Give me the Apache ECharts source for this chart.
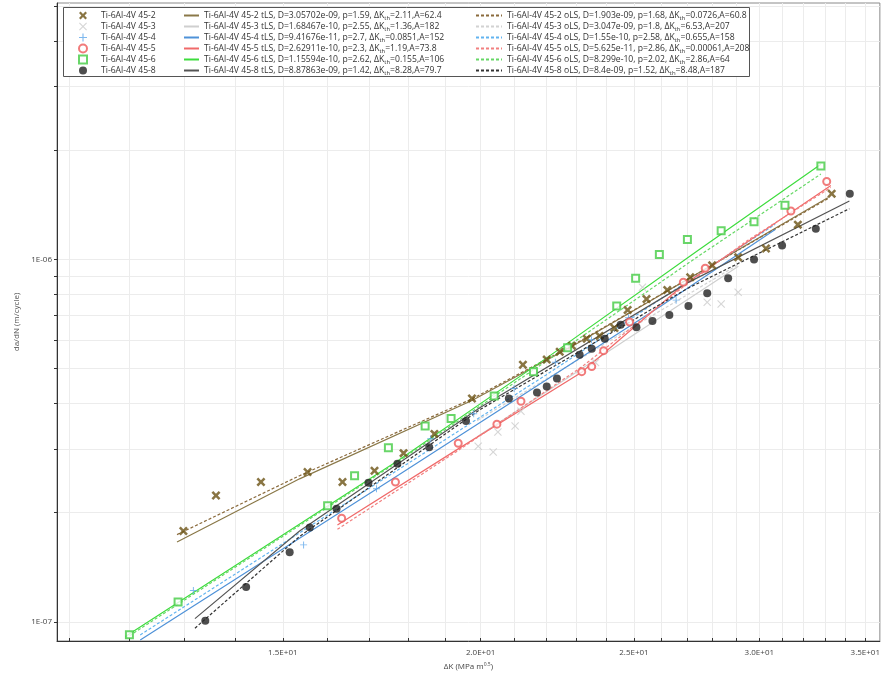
<!DOCTYPE html>
<html>
<head>
<meta charset="utf-8">
<script src="https://cdn.jsdelivr.net/npm/echarts@6/dist/echarts.min.js"></script>
<style>
html, body { margin: 0; padding: 0; background: #fff; }
#chart { width: 883px; height: 676px; }
</style>
</head>
<body>
<div id="chart"></div>
<script>
// axis ticks / labels
const xLabelValues = [15, 20, 25, 30, 35];
const xTickValues = [11, 12, 13, 14, 15, 16, 17, 18, 19, 20, 21, 22, 23, 24, 25, 26, 27, 28, 29, 30, 31, 32, 33, 34, 35];
const yLabelValues = [1e-7, 1e-6];
const yTickValues = [1e-7, 2e-7, 3e-7, 4e-7, 5e-7, 6e-7, 7e-7, 8e-7, 9e-7, 1e-6, 2e-6, 3e-6, 4e-6, 5e-6];

// measured points [dK, da/dN]
const pts452 = [[12.98,1.78e-7],[13.61,2.23e-7],[14.53,2.43e-7],[15.55,2.59e-7],[16.36,2.43e-7],[17.14,2.61e-7],[17.88,2.92e-7],[18.70,3.30e-7],[19.75,4.13e-7],[21.27,5.12e-7],[22.02,5.29e-7],[22.44,5.56e-7],[22.84,5.78e-7],[23.34,6.04e-7],[23.78,6.15e-7],[24.30,6.47e-7],[24.77,7.25e-7],[25.46,7.77e-7],[26.24,8.23e-7],[27.13,8.93e-7],[28.01,9.63e-7],[29.09,1.013e-6],[30.29,1.072e-6],[31.73,1.247e-6],[33.33,1.517e-6]];
const pts453 = [[19.93,3.05e-7],[20.37,2.94e-7],[20.51,3.34e-7],[21.03,3.47e-7],[21.21,3.81e-7],[23.64,5.19e-7],[25.31,8.38e-7],[27.81,7.62e-7],[28.38,7.53e-7],[29.09,8.12e-7]];
const pts454 = [[13.17,1.22e-7],[15.46,1.63e-7],[17.19,2.33e-7],[18.6,3.2e-7],[19.8,3.75e-7],[21.0,4.4e-7],[22.3,5.2e-7],[23.5,6.0e-7],[24.8,6.9e-7],[26.58,7.72e-7]];
const pts455 = [[16.34,1.93e-7],[17.67,2.43e-7],[19.36,3.11e-7],[20.48,3.51e-7],[21.21,4.06e-7],[23.17,4.90e-7],[23.51,5.06e-7],[23.92,5.60e-7],[24.84,6.72e-7],[26.86,8.65e-7],[27.73,9.45e-7],[31.41,1.36e-6],[33.09,1.64e-6]];
const pts456 = [[12.00,9.21e-8],[12.88,1.134e-7],[16.01,2.09e-7],[16.65,2.53e-7],[17.49,3.02e-7],[18.45,3.47e-7],[19.16,3.64e-7],[20.4,4.2e-7],[21.6,4.9e-7],[22.7,5.7e-7],[24.38,7.44e-7],[25.06,8.87e-7],[25.94,1.032e-6],[27.02,1.134e-6],[28.38,1.20e-6],[29.77,1.27e-6],[31.14,1.41e-6],[32.81,1.81e-6]];
const pts458 = [[13.40,1.006e-7],[14.22,1.247e-7],[15.15,1.555e-7],[15.60,1.82e-7],[16.22,2.05e-7],[16.99,2.42e-7],[17.72,2.73e-7],[18.56,3.03e-7],[19.58,3.58e-7],[20.84,4.13e-7],[21.71,4.29e-7],[22.02,4.46e-7],[22.35,4.69e-7],[23.10,5.46e-7],[23.51,5.67e-7],[23.96,6.04e-7],[24.52,6.60e-7],[25.09,6.50e-7],[25.68,6.76e-7],[26.32,7.02e-7],[27.06,7.44e-7],[27.81,8.07e-7],[28.67,8.87e-7],[29.77,1.0e-6],[31.01,1.092e-6],[32.57,1.216e-6],[34.22,1.517e-6]];

// fitted curves (tLS solid, oLS dashed)
const tls452 = [[12.86,1.66e-7],[15.37,2.48e-7],[19.75,4.08e-7],[22.84,5.75e-7],[27.13,8.9e-7],[33.14,1.48e-6]];
const ols452 = [[12.86,1.74e-7],[15.37,2.53e-7],[19.75,4.12e-7],[22.84,5.78e-7],[27.13,8.9e-7],[33.14,1.47e-6]];
const tls453 = [[19.9,3.24e-7],[24.5,5.85e-7],[29.1,9.57e-7]];
const ols453 = [[19.9,3.59e-7],[24.5,6.2e-7],[29.1,9.68e-7]];
const tls454 = [[12.19,8.9e-8],[17.77,2.55e-7],[22.0,4.65e-7],[26.0,7.44e-7],[30.7,1.21e-6]];
const ols454 = [[12.19,9.2e-8],[17.77,2.64e-7],[22.0,4.8e-7],[26.0,7.78e-7],[30.7,1.25e-6]];
const tls455 = [[16.24,1.85e-7],[19.36,3.0e-7],[23.17,4.88e-7],[26.86,8.5e-7],[29.51,1.12e-6],[33.29,1.6e-6]];
const ols455 = [[16.24,1.8e-7],[19.36,2.97e-7],[23.17,5.05e-7],[26.86,8.4e-7],[29.51,1.13e-6],[33.29,1.58e-6]];
const tls456 = [[11.93,9.1e-8],[17.77,2.8e-7],[22.09,5.4e-7],[27.45,1.06e-6],[32.81,1.83e-6]];
const ols456 = [[11.93,9.0e-8],[17.77,2.78e-7],[22.09,5.3e-7],[27.45,1.02e-6],[32.81,1.72e-6]];
const tls458 = [[13.2,1.02e-7],[15.37,1.78e-7],[20.0,3.91e-7],[27.0,8.6e-7],[34.2,1.45e-6]];
const ols458 = [[13.2,9.6e-8],[15.37,1.72e-7],[20.0,3.86e-7],[27.0,8.3e-7],[34.2,1.38e-6]];

const specimenNames = ['Ti-6Al-4V 45-2', 'Ti-6Al-4V 45-3', 'Ti-6Al-4V 45-4', 'Ti-6Al-4V 45-5', 'Ti-6Al-4V 45-6', 'Ti-6Al-4V 45-8'];
const tlsNames = [
  'Ti-6Al-4V 45-2 tLS, D=3.05702e-09, p=1.59, ΔKth=2.11,A=62.4',
  'Ti-6Al-4V 45-3 tLS, D=1.68467e-10, p=2.55, ΔKth=1.36,A=182',
  'Ti-6Al-4V 45-4 tLS, D=9.41676e-11, p=2.7, ΔKth=0.0851,A=152',
  'Ti-6Al-4V 45-5 tLS, D=2.62911e-10, p=2.3, ΔKth=1.19,A=73.8',
  'Ti-6Al-4V 45-6 tLS, D=1.15594e-10, p=2.62, ΔKth=0.155,A=106',
  'Ti-6Al-4V 45-8 tLS, D=8.87863e-09, p=1.42, ΔKth=8.28,A=79.7'
];
const olsNames = [
  'Ti-6Al-4V 45-2 oLS, D=1.903e-09, p=1.68, ΔKth=0.0726,A=60.8',
  'Ti-6Al-4V 45-3 oLS, D=3.047e-09, p=1.8, ΔKth=6.53,A=207',
  'Ti-6Al-4V 45-4 oLS, D=1.55e-10, p=2.58, ΔKth=0.655,A=158',
  'Ti-6Al-4V 45-5 oLS, D=5.625e-11, p=2.86, ΔKth=0.00061,A=208',
  'Ti-6Al-4V 45-6 oLS, D=8.299e-10, p=2.02, ΔKth=2.86,A=64',
  'Ti-6Al-4V 45-8 oLS, D=8.4e-09, p=1.52, ΔKth=8.48,A=187'
];

const pointSets = [pts452, pts453, pts454, pts455, pts456, pts458];
const tlsSets = [tls452, tls453, tls454, tls455, tls456, tls458];
const olsSets = [ols452, ols453, ols454, ols455, ols456, ols458];

// marker look per specimen
const crossBold = 'path://M0,2 L2,0 L5,3 L8,0 L10,2 L7,5 L10,8 L8,10 L5,7 L2,10 L0,8 L3,5 Z';
const crossThin = 'path://M0,1 L1,0 L5,4 L9,0 L10,1 L6,5 L10,9 L9,10 L5,6 L1,10 L0,9 L4,5 Z';
const plusThin = 'path://M4.3,0 H5.7 V4.3 H10 V5.7 H5.7 V10 H4.3 V5.7 H0 V4.3 H4.3 Z';
const looks = [
  { symbol: crossBold, size: 9, mark: '#6b5214', solid: '#8a7848', dashed: '#8a6a3c' },
  { symbol: crossThin, size: 8, mark: '#cccccc', solid: '#cfcfcf', dashed: '#d2d2d2' },
  { symbol: plusThin, size: 7, mark: '#5ea6ea', solid: '#4f92d8', dashed: '#62b4f0' },
  { symbol: 'emptyCircle', size: 7, mark: '#ee5a5a', solid: '#f06a6a', dashed: '#f28080' },
  { symbol: 'emptyRect', size: 7, mark: '#44cc44', solid: '#3ddc3d', dashed: '#66d866' },
  { symbol: 'circle', size: 8, mark: '#222222', solid: '#555555', dashed: '#333333' }
];

const series = [];
specimenNames.forEach(function (name, i) {
  const lk = looks[i];
  series.push({
    name: name, type: 'scatter', data: pointSets[i],
    symbol: lk.symbol, symbolSize: lk.size, z: 4,
    itemStyle: { color: lk.mark, borderWidth: lk.symbol.indexOf('empty') === 0 ? 0.9 : 0 }
  });
  series.push({
    name: tlsNames[i], type: 'line', data: tlsSets[i], symbol: 'none', z: 3,
    lineStyle: { color: lk.solid, width: 1.2 }, itemStyle: { color: lk.solid }
  });
  series.push({
    name: olsNames[i], type: 'line', data: olsSets[i], symbol: 'none', z: 3,
    lineStyle: { color: lk.dashed, width: 1.2, type: [3, 2] }, itemStyle: { color: lk.dashed }
  });
});

const legendText = {
  fontFamily: 'Open Sans', fontSize: 8.6, color: '#333', lineHeight: 11,
  rich: { sub: { fontFamily: 'Open Sans', fontSize: 6, color: '#333', padding: [5, 0, 0, 0] } }
};
function legendFmt(n) { return n.replace('ΔKth', 'ΔK{sub|th}'); }
const legendBase = {
  orient: 'vertical', top: 10, padding: 0, itemGap: 0, itemHeight: 8,
  selectedMode: false, textStyle: legendText, formatter: legendFmt, z: 6
};
// line swatches only: hide the symbol drawn on top of the line sample
const lineLegendExtra = { itemStyle: { opacity: 0, borderWidth: 0 } };

function expLabel(v) {
  const e = Math.floor(Math.log10(v) + 1e-9);
  const m = v / Math.pow(10, e);
  const s = (e < 0 ? '-' : '+') + String(Math.abs(e)).padStart(2, '0');
  return (Math.abs(m - 1) < 1e-9 ? '1' : m.toFixed(1)) + 'E' + s;
}

const chart = echarts.init(document.getElementById('chart'));
chart.setOption({
  animation: false,
  backgroundColor: '#fff',
  grid: { left: 57, right: 1, top: 3, bottom: 35, show: true, borderColor: '#8a8a8a', borderWidth: 1 },
  xAxis: {
    type: 'log', logBase: 10, min: 10.8, max: 35.75,
    name: 'ΔK (MPa m{sup|0.5})', nameLocation: 'middle', nameGap: 19,
    nameTextStyle: { fontFamily: 'Open Sans', fontSize: 8, color: '#444',
      rich: { sup: { fontFamily: 'Open Sans', fontSize: 5, color: '#444', padding: [0, 0, 5, 0] } } },
    axisLine: { lineStyle: { color: '#333', width: 1 } },
    axisTick: { customValues: xTickValues, inside: true, length: 3, lineStyle: { color: '#333' } },
    axisLabel: { customValues: xLabelValues, formatter: expLabel, fontFamily: 'Open Sans', fontSize: 8, color: '#444', margin: 8 },
    splitLine: { show: true, lineStyle: { color: '#ececec', width: 1 } }
  },
  yAxis: {
    type: 'log', logBase: 10, min: 8.85e-8, max: 5.1e-6,
    name: 'da/dN (m/cycle)', nameLocation: 'middle', nameGap: 30,
    nameTextStyle: { fontFamily: 'Open Sans', fontSize: 8, color: '#555' },
    axisLine: { show: true, lineStyle: { color: '#333', width: 1 } },
    axisTick: { customValues: yTickValues, inside: false, length: 3, lineStyle: { color: '#333' } },
    axisLabel: { customValues: yLabelValues, formatter: expLabel, fontFamily: 'Open Sans', fontSize: 8, color: '#444', margin: 5 },
    splitLine: { show: true, lineStyle: { color: '#ececec', width: 1 } }
  },
  graphic: [{
    type: 'rect', z: 5, shape: { x: 63.5, y: 7.5, width: 686, height: 69 },
    style: { fill: '#fff', stroke: '#555', lineWidth: 1 }
  }],
  legend: [
    Object.assign({}, legendBase, { left: 78, itemWidth: 8,
      textStyle: Object.assign({}, legendText, { padding: [0, 0, 0, 9] }), data: specimenNames }),
    Object.assign({}, legendBase, lineLegendExtra, { left: 183, itemWidth: 15, data: tlsNames }),
    Object.assign({}, legendBase, lineLegendExtra, { left: 475, itemWidth: 26, data: olsNames })
  ],
  series: series
});
</script>
</body>
</html>
